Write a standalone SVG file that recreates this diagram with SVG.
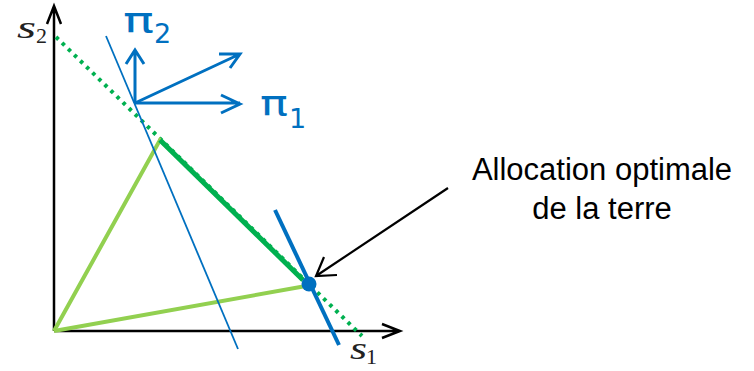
<svg xmlns="http://www.w3.org/2000/svg" width="754" height="371" viewBox="0 0 754 371">
<defs>
<style>
.axis{stroke:#000;stroke-width:2.5;fill:none}
.blue{stroke:#0070C0;fill:none;stroke-linecap:butt}
.lbl{font-family:"Liberation Sans",Arial,sans-serif;font-size:31px;fill:#000;text-anchor:middle}
.math{font-family:"Liberation Serif","DejaVu Serif",serif;font-style:italic;fill:#222}
.sub{font-family:"Liberation Serif","DejaVu Serif",serif;fill:#222;font-size:22px}
.pi{font-family:"DejaVu Sans","Noto Sans",sans-serif;fill:#0070C0}
</style>
</defs>
<rect width="754" height="371" fill="#fff"/>
<g id="axes">
<path class="axis" d="M54,331 V6 M47,24 L54,6 L61,24"/>
<path class="axis" d="M54,331 H400 M382,324 L400,331 L382,338"/>
<text class="math" x="17" y="38" font-size="32" textLength="19" lengthAdjust="spacingAndGlyphs">s</text>
<text class="sub" x="36" y="43">2</text>
<text class="math" x="350" y="359" font-size="32" textLength="17" lengthAdjust="spacingAndGlyphs">s</text>
<text class="sub" x="366" y="364">1</text>
</g>
<g id="budget-line">
<line x1="56" y1="37" x2="362" y2="336" stroke="#00B050" stroke-width="4" stroke-dasharray="3.5 5"/>
</g>
<g id="frontier">
<polyline points="54,331 160,140 303,280" fill="none" stroke="#92D050" stroke-width="4"/>
<line x1="54" y1="331" x2="306" y2="286" stroke="#92D050" stroke-width="4"/>
<line x1="160" y1="140" x2="303" y2="280" stroke="#00B050" stroke-width="5"/>
</g>
<g id="price-lines">
<line class="blue" x1="106" y1="36" x2="238" y2="349" stroke-width="1.8"/>
<line class="blue" x1="275" y1="210" x2="339" y2="345" stroke-width="4"/>
<circle cx="309" cy="284" r="7.5" fill="#0070C0"/>
</g>
<g id="price-vectors">
<path class="blue" stroke-width="3" d="M135,103 V50 M126,64 L135,50 L144,64"/>
<path class="blue" stroke-width="3" d="M135,103 H240 M221,95 L240,104 L221,113"/>
<path class="blue" stroke-width="3" d="M135,103 L240,54 M219,54 L240,54 L230,68"/>
<text class="pi" x="123" y="33" font-size="36" textLength="31" lengthAdjust="spacingAndGlyphs">π</text>
<text class="pi" x="154" y="43" font-size="27">2</text>
<text class="pi" x="260" y="116" font-size="36" textLength="28" lengthAdjust="spacingAndGlyphs">π</text>
<text class="pi" x="289" y="128" font-size="27">1</text>
</g>
<g id="connectors">
<path d="M448,188 L316,276 M324,257 L316,276 L337,275" stroke="#000" stroke-width="2.2" fill="none"/>
</g>
<g id="label">
<text class="lbl" x="602" y="180">Allocation optimale</text>
<text class="lbl" x="602" y="219">de la terre</text>
</g>
</svg>
